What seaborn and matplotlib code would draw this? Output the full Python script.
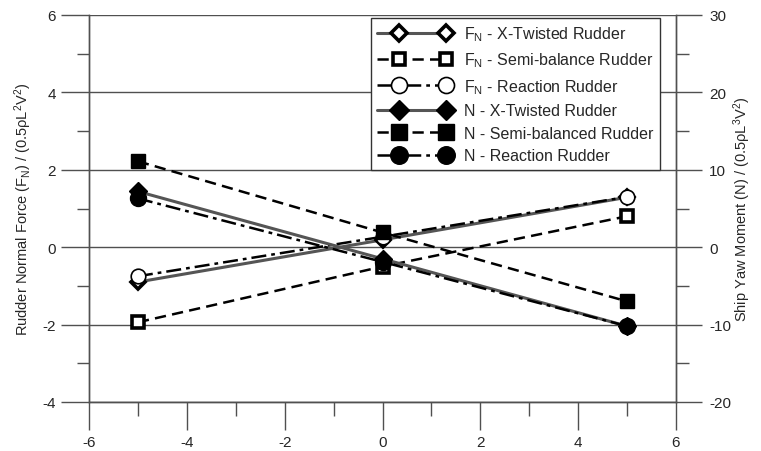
import matplotlib
matplotlib.use("Agg")
import matplotlib.pyplot as plt
import seaborn as sns
import numpy as np
import pandas as pd
from matplotlib.ticker import MultipleLocator
from matplotlib.legend_handler import HandlerLine2DCompound

# ---- data ----
x_vals = [-5, 0, 5]
fn_xtwist = [-0.90, 0.19, 1.29]
fn_semi = [-1.94, -0.50, 0.80]
fn_reaction = [-0.75, 0.27, 1.30]
n_xtwist = [7.2, -1.5, -10.2]
n_semi = [11.1, 1.9, -7.0]
n_reaction = [6.3, -1.9, -10.2]

labels = [
    r"F$_{\rm N}$ - X-Twisted Rudder",
    r"F$_{\rm N}$ - Semi-balance Rudder",
    r"F$_{\rm N}$ - Reaction Rudder",
    "N - X-Twisted Rudder",
    "N - Semi-balanced Rudder",
    "N - Reaction Rudder",
]

sns.set_style("white")
plt.rcParams["font.family"] = ["Liberation Sans", "DejaVu Sans"]
plt.rcParams["mathtext.fontset"] = "custom"
plt.rcParams["mathtext.rm"] = "Liberation Sans"
plt.rcParams["mathtext.it"] = "Liberation Sans:italic"
plt.rcParams["mathtext.bf"] = "Liberation Sans:bold"
plt.rcParams["axes.unicode_minus"] = False


class ExcelHandler(HandlerLine2DCompound):
    def get_xdata(self, legend, xdescent, ydescent, width, height, fontsize):
        x0 = -xdescent
        line_x = np.array([x0, x0 + 0.88 * width])
        marker_x = np.array([x0 + 0.28 * width, x0 + 0.88 * width])
        return line_x, marker_x


fig = plt.figure(figsize=(7.61, 4.52), dpi=100)
ax = fig.add_axes([89 / 761, 1 - 403 / 452, (676 - 89) / 761, (403 - 16) / 452])
ax2 = ax.twinx()

grey = "#505050"
lcol_tw = "#555555"
dash = (0, (4.5, 2.5))
dashdot = (0, (6, 2, 1.5, 2))

styles = [
    dict(color=lcol_tw, linestyle="-", lw=2.2, marker="D", ms=7, mfc="white", mec="black", mew=2.6),
    dict(color="black", linestyle=dash, lw=1.8, marker="s", ms=8.3, mfc="white", mec="black", mew=2.6),
    dict(color="black", linestyle=dashdot, lw=1.8, marker="o", ms=10.5, mfc="white", mec="black", mew=1.2),
    dict(color=lcol_tw, linestyle="-", lw=2.2, marker="D", ms=9, mfc="black", mec="black", mew=1),
    dict(color="black", linestyle=dash, lw=1.8, marker="s", ms=10, mfc="black", mec="black", mew=1),
    dict(color="black", linestyle=dashdot, lw=1.8, marker="o", ms=11.5, mfc="black", mec="black", mew=1),
]

fn_series = [fn_xtwist, fn_semi, fn_reaction]
n_series = [n_xtwist, n_semi, n_reaction]

for i, ys in enumerate(fn_series):
    df = pd.DataFrame({"x": x_vals, "y": ys})
    sns.lineplot(data=df, x="x", y="y", ax=ax, legend=False, label=labels[i], zorder=3, **styles[i])
for i, ys in enumerate(n_series):
    df = pd.DataFrame({"x": x_vals, "y": ys})
    sns.lineplot(data=df, x="x", y="y", ax=ax2, legend=False, label=labels[i + 3], zorder=3, **styles[i + 3])

ax.set_xlim(-6, 6)
ax.set_ylim(-4, 6)
ax2.set_ylim(-20, 30)

ax.xaxis.set_major_locator(MultipleLocator(2))
ax.xaxis.set_minor_locator(MultipleLocator(1))
ax.yaxis.set_major_locator(MultipleLocator(2))
ax.yaxis.set_minor_locator(MultipleLocator(1))
ax2.yaxis.set_major_locator(MultipleLocator(10))
ax2.yaxis.set_minor_locator(MultipleLocator(5))

ax.grid(axis="y", which="major", color=grey, lw=1.0)
ax.grid(axis="x", visible=False)
ax2.grid(False)

for a in (ax, ax2):
    for s in a.spines.values():
        s.set_color(grey)
        s.set_linewidth(1.0)
    a.spines["top"].set_visible(False)
    a.set_xlabel("")
    a.set_ylabel("")

ax.tick_params(axis="x", which="major", direction="out", length=20, width=1, color=grey,
               labelsize=11, pad=4, bottom=True)
ax.tick_params(axis="x", which="minor", direction="out", length=10, width=1, color=grey, bottom=True)
ax.tick_params(axis="y", which="major", direction="out", length=20, width=1, color=grey,
               labelsize=11, pad=4, left=True)
ax.tick_params(axis="y", which="minor", direction="out", length=9, width=1, color=grey, left=True)
ax2.tick_params(axis="y", which="major", direction="out", length=19, width=1, color=grey,
                labelsize=11, pad=5, right=True)
ax2.tick_params(axis="y", which="minor", direction="out", length=9, width=1, color=grey, right=True)

ax.set_ylabel(r"Rudder Normal Force (F$_{\rm N}$) / (0.5ρL$^{2}$V$^{2}$)", fontsize=10.5, labelpad=6)
ax2.set_ylabel(r"Ship Yaw Moment (N) / (0.5ρL$^{3}$V$^{2}$)", fontsize=10.5, labelpad=0)

h1, l1 = ax.get_legend_handles_labels()
h2, l2 = ax2.get_legend_handles_labels()
handles = h1 + h2
leg = ax2.legend(handles, l1 + l2, loc="upper right", bbox_to_anchor=(0.973, 0.992),
                 handler_map={h: ExcelHandler() for h in handles}, numpoints=2,
                 handlelength=4.85, fontsize=11.5, frameon=True, fancybox=False,
                 framealpha=1, edgecolor="#333333", borderpad=0.4, labelspacing=0.47,
                 handletextpad=0.6, borderaxespad=0, markerscale=1.1)
leg.get_frame().set_linewidth(1.0)
leg.set_zorder(10)

fig.savefig("out.png", dpi=100)
